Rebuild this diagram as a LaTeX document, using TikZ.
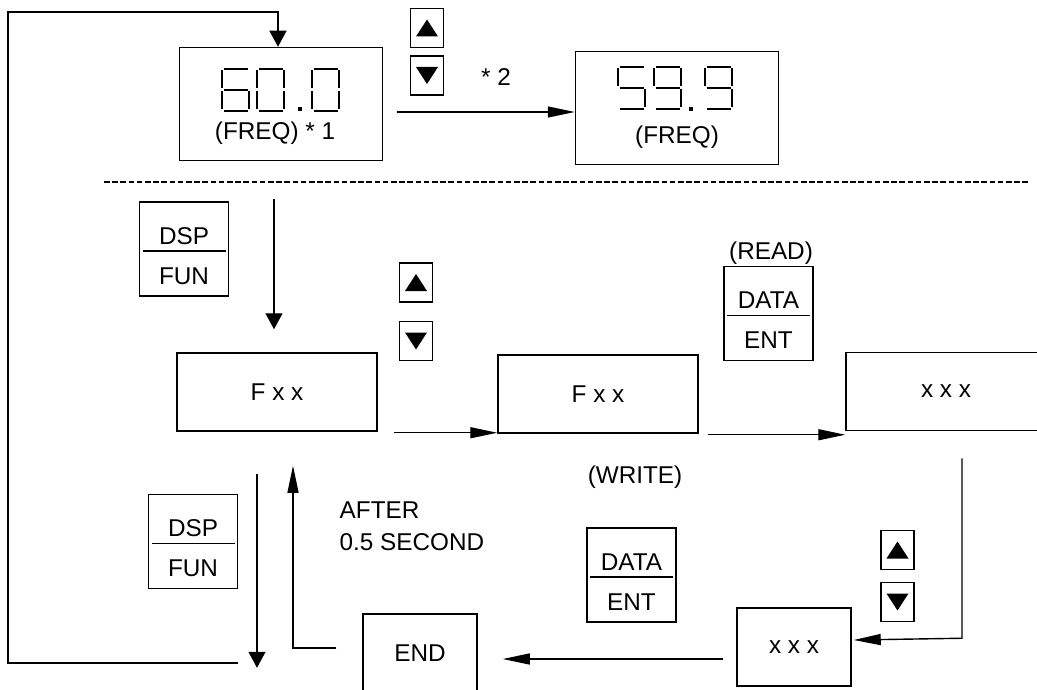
\documentclass[tikz,border=0pt]{standalone}
\usepackage{fontspec}
\setmainfont{Liberation Sans}
\usetikzlibrary{arrows.meta,positioning,calc}

\begin{document}
\begin{tikzpicture}[x=1pt, y=-1pt, line width=1.4pt,
  font={\fontsize{24.3}{32}\selectfont},
  flow/.style={-{Triangle[length=27pt,width=11pt]}},
  drop/.style={-{Triangle[length=16pt,width=17pt]}},
  display/.style={draw, line width=1.5pt, minimum width=203pt, minimum height=113pt},
  panel/.style={draw, line width=1.5pt, minimum width=200pt, minimum height=78pt},
  keyframe/.style={draw, line width=1.5pt, minimum width=89pt, minimum height=94pt,
    path picture={\draw ([xshift=3pt,yshift=-2pt]path picture bounding box.west) -- ([xshift=-3pt,yshift=-2pt]path picture bounding box.east);}},
  keytext/.style 2 args={label={[anchor=center,yshift=13pt]center:#1}, label={[anchor=center,yshift=-27pt]center:#2}},
  arrowkey/.style={draw, line width=1.5pt, minimum width=33pt, minimum height=39pt},
  upkey/.style={arrowkey, path picture={\fill ([yshift=8.5pt]path picture bounding box.center) -- ++(-11pt,-17pt) -- ++(22pt,0pt) -- cycle;}},
  downkey/.style={arrowkey, path picture={\fill ([yshift=-8.5pt]path picture bounding box.center) -- ++(-11pt,17pt) -- ++(22pt,0pt) -- cycle;}},
  segline/.style={line width=1.6pt},
  pics/digit/.style={code={
    \coordinate (a1) at (1.5,0);  \coordinate (a2) at (25.5,0);
    \coordinate (b1) at (27,1.5); \coordinate (b2) at (27,19.5);
    \coordinate (c1) at (27,22.5); \coordinate (c2) at (27,40.5);
    \coordinate (d1) at (1.5,42); \coordinate (d2) at (25.5,42);
    \coordinate (e1) at (0,22.5); \coordinate (e2) at (0,40.5);
    \coordinate (f1) at (0,1.5);  \coordinate (f2) at (0,19.5);
    \coordinate (g1) at (1.5,21); \coordinate (g2) at (25.5,21);
    \foreach \s in {#1} {\draw[segline] (\s1) -- (\s2);}
  }}]
  \clip (0,0) rectangle (1037,690);

  % frequency displays
  \node[display] (freqA) at (281,104) {};
  \pic at (222,69) {digit={a,c,d,e,f,g}};
  \pic at (257,69) {digit={a,b,c,d,e,f}};
  \fill (298,107) rectangle (302,111);
  \pic at (312,69) {digit={a,b,c,d,e,f}};
  \node (freqAtext) at (275,133) {(FREQ) * 1};

  \node[display] (freqB) at (677,108) {};
  \pic at (618,67) {digit={a,c,d,f,g}};
  \pic at (654,67) {digit={a,b,c,d,f,g}};
  \fill (689,107) rectangle (693,111);
  \pic at (705,67) {digit={a,b,c,d,f,g}};
  \node (freqBtext) at (677,137) {(FREQ)};

  \node[upkey] (upA) at (427,28) {};
  \node[downkey] (downA) at (427,75.5) {};
  \node (note2) at (496,77) {* 2};

  \draw[dash pattern=on 5.5pt off 2.7pt, line width=1.6pt] (104,182) -- (1029,182);

  % function mode
  \node[keyframe, keytext={DSP}{FUN}] (dspA) at (184,249) {};
  \node[panel] (fxxA) at (277,392) {F x x};
  \node[upkey] (upB) at (416,282.5) {};
  \node[downkey] (downB) at (416,341) {};
  \node[panel] (fxxB) at (598,394) {F x x};
  \node (read) at (771,253) {(READ)};
  \node[keyframe, keytext={DATA}{ENT}] (entA) at (768.5,313.5) {};
  \node[panel] (xxxA) at (946,391.5) {x x x};

  \node (write) at (635,477) {(WRITE)};
  \node[keyframe, keytext={DSP}{FUN}] (dspB) at (193,541.5) {};
  \node[anchor=west, align=left, inner sep=0pt] (after) at (339,526) {AFTER\\0.5 SECOND};
  \node[keyframe, keytext={DATA}{ENT}] (entB) at (631.5,575) {};
  \node[upkey] (upC) at (897.5,550) {};
  \node[downkey] (downC) at (897.5,602) {};
  \node[panel, minimum width=114pt] (xxxB) at (794,647) {x x x};
  \node[panel, minimum width=114pt] (endbox) at (420,653) {END};

  % connectors
  \coordinate (loopend) at (238,663);
  \coordinate (loopcorner) at (8,12);
  \draw[drop] (loopend) -| (loopcorner) -| ([xshift=-3pt]freqA.north);
  \draw[flow] ([xshift=14pt,yshift=-8pt]freqA.east) -- ([yshift=-8pt]freqA.east -| freqB.west);
  \coordinate (dspdrop) at (274,199);
  \draw[drop, shorten >=23pt] (dspdrop) -- (dspdrop |- fxxA.north);
  \draw[flow] ([xshift=16pt,yshift=-1pt]fxxA.south east) -- ([yshift=-1pt]fxxA.south east -| fxxB.west);
  \draw[flow] ([xshift=9pt,yshift=-1pt]fxxB.south east) -- ([yshift=-1pt]fxxB.south east -| xxxA.west);
  \draw[flow] ([xshift=16pt,yshift=-27pt]xxxA.south) -- ++(0,180) -- ([xshift=2pt,yshift=7pt]xxxB.east);
  \draw[flow, shorten >=25pt] ([xshift=-13pt,yshift=-12pt]xxxB.west) -- ([yshift=-12pt]xxxB.west -| endbox.east);
  \draw[flow, shorten >=34pt] ([xshift=-26pt,yshift=5pt]endbox.west) -| ([xshift=16pt]fxxA.south);
  \draw[drop] ([xshift=-20pt,yshift=-42pt]fxxA.south) -- ++(0,194);
\end{tikzpicture}
\end{document}
